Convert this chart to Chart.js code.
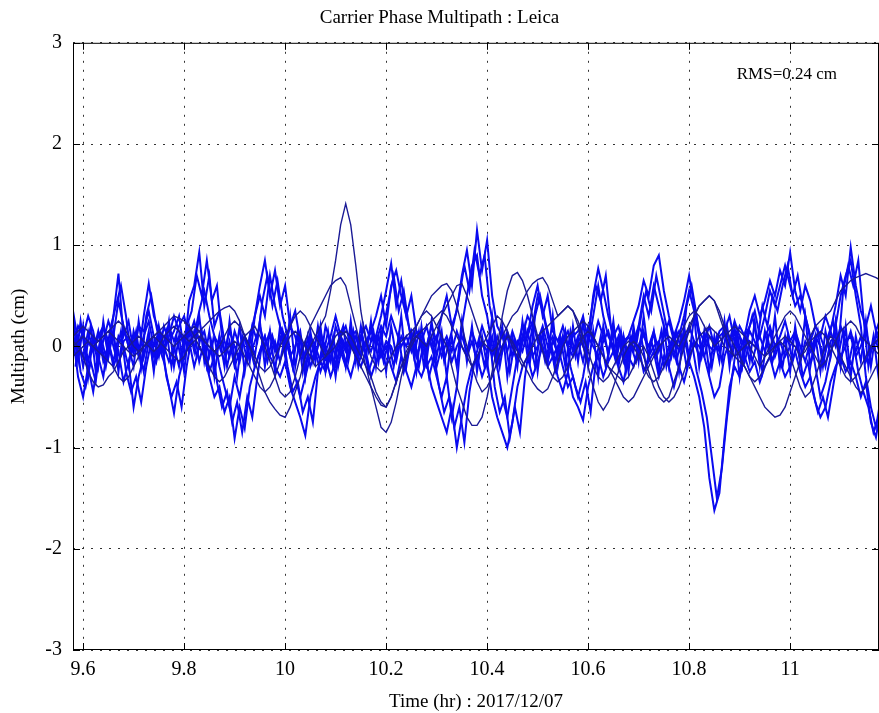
<!DOCTYPE html>
<html>
<head>
<meta charset="utf-8">
<script src="https://cdn.jsdelivr.net/npm/chart.js@4/dist/chart.umd.min.js"></script>
<style>
  html, body { margin: 0; padding: 0; background: #fff; overflow: hidden; }
  canvas { display: block; }
</style>
</head>
<body>
<canvas id="mp" width="879" height="713"></canvas>
<script>
// time axis: samples every 0.01 hr from 9.58 hr
const startHr = 9.58;
const stepHr = 0.01;

const xTicks = [9.6, 9.8, 10, 10.2, 10.4, 10.6, 10.8, 11];
const xTickLabels = ['9.6', '9.8', '10', '10.2', '10.4', '10.6', '10.8', '11'];
const yTicks = [-3, -2, -1, 0, 1, 2, 3];

// noisy satellites (cm)
const satA = [
  0.35, 0.05, -0.1, 0.15, -0.05, 0.1, 0.2, -0.1, 0.3, 0.72, 0.1, 0.25, -0.05, 0.2, 0.15, 0.35, 0.1, -0.1, 0.2, 0.05,
  0.15, 0.3, -0.05, 0.45, 0.6, 0.93, 0.4, 0.7, 0.2, 0.35, 0.05, -0.1, 0.15, 0.0, 0.1, -0.15, 0.3, 0.6, 0.85, 0.5,
  0.75, 0.4, 0.6, 0.2, 0.35, 0.05, -0.1, 0.1, 0.0, -0.15, 0.2, 0.05, -0.1, 0.1, 0.0, 0.15, -0.05, 0.1, 0.2, 0.05,
  0.1, 0.3, 0.55, 0.82, 0.4, 0.65, 0.3, 0.5, 0.15, 0.1, 0.0, 0.2, 0.05, 0.3, 0.5, 0.2, 0.35, 0.7, 0.95, 0.6,
  1.15, 0.75, 1.05, 0.5, 0.2, 0.1, -0.05, 0.15, 0.0, 0.2, 0.1, 0.4, 0.6, 0.3, 0.5, 0.15, 0.05, 0.2, 0.0, 0.1,
  0.15, 0.3, 0.05, 0.5, 0.77, 0.55, 0.3, 0.1, 0.2, 0.0, 0.1, 0.25, 0.4, 0.65, 0.5, 0.8, 0.9, 0.55, 0.3, 0.1,
  0.25, 0.45, 0.7, 0.4, 0.15, 0.05, 0.2, 0.0, 0.1, 0.15, 0.3, 0.05, 0.2, 0.1, 0.35, 0.5, 0.3, 0.45, 0.65, 0.5,
  0.75, 0.6, 0.93, 0.55, 0.35, 0.6, 0.45, 0.2, 0.1, 0.3, 0.15, 0.4, 0.7, 0.5, 0.98, 0.6, 0.35, 0.2, 0.4, 0.15,
  0.3
];
const satB = [
  0.1, -0.3, -0.5, -0.2, -0.45, -0.1, -0.3, 0.05, -0.2, -0.05, -0.35, -0.15, -0.6, -0.3, -0.1, 0.1, -0.2, 0.0, -0.15, -0.4,
  -0.66, -0.3, -0.1, 0.05, -0.2, 0.0, -0.1, -0.3, -0.5, -0.4, -0.65, -0.5, -0.91, -0.6, -0.81, -0.4, -0.2, -0.05, 0.1, -0.1,
  -0.2, -0.3, -0.15, -0.4, -0.55, -0.7, -0.88, -0.5, -0.3, -0.15, -0.25, -0.1, -0.2, 0.0, -0.15, -0.3, -0.1, -0.2, -0.05, -0.3,
  -0.15, -0.1, 0.0, -0.2, -0.35, -0.1, -0.25, -0.4, -0.2, -0.3, -0.15, -0.4, -0.55, -0.7, -0.85, -0.6, -1.0, -0.7, -0.4, -0.2,
  -0.1, -0.3, -0.15, -0.5, -0.7, -0.85, -1.0, -0.75, -0.4, -0.2, -0.1, -0.3, -0.15, 0.0, -0.2, -0.1, -0.3, -0.45, -0.25, -0.5,
  -0.6, -0.73, -0.4, -0.2, -0.1, -0.3, -0.15, -0.05, -0.2, -0.35, -0.1, -0.2, 0.0, -0.25, -0.15, -0.05, -0.3, -0.1, -0.2, -0.4,
  -0.2, -0.35, -0.15, -0.3, -0.5, -0.8, -1.3, -1.62, -1.45, -0.9, -0.4, -0.2, -0.3, -0.1, -0.25, -0.15, -0.35, -0.2, -0.1, -0.3,
  -0.15, -0.3, -0.2, -0.05, -0.25, -0.4, -0.3, -0.55, -0.7, -0.6, -0.35, -0.2, -0.1, -0.25, -0.15, -0.3, -0.5, -0.35, -0.75, -0.9,
  -0.6
];
const satC = [
  0.2, 0.0, 0.15, -0.15, 0.1, -0.05, 0.2, 0.05, -0.15, 0.1, 0.0, -0.2, 0.15, -0.05, 0.1, 0.25, 0.0, 0.15, -0.1, 0.2,
  0.05, 0.2, 0.3, 0.1, 0.25, 0.05, 0.15, -0.1, 0.1, 0.0, -0.15, 0.05, -0.2, -0.05, 0.1, -0.1, 0.05, 0.2, 0.0, 0.15,
  -0.05, 0.1, 0.0, 0.2, 0.1, -0.1, 0.05, -0.2, -0.05, -0.25, -0.1, -0.3, -0.15, -0.05, -0.2, 0.05, -0.1, 0.1, 0.0, 0.15,
  0.05, 0.2, 0.1, 0.3, 0.15, 0.0, 0.1, -0.05, 0.15, 0.05, 0.2, 0.0, 0.1, -0.1, 0.05, -0.15, 0.0, 0.1, -0.05, 0.15,
  0.0, 0.2, 0.05, -0.1, 0.1, -0.05, 0.15, 0.0, -0.15, 0.05, 0.1, 0.25, 0.05, 0.2, 0.0, 0.1, -0.1, 0.05, 0.15, -0.05,
  0.1, 0.0, 0.2, 0.05, 0.25, 0.1, -0.05, 0.15, 0.0, 0.1, -0.1, 0.05, 0.2, 0.1, 0.0, 0.15, -0.05, 0.1, 0.25, 0.05,
  0.15, 0.0, 0.2, 0.05, -0.1, 0.1, 0.0, -0.05, 0.15, 0.2, 0.05, 0.25, 0.1, 0.0, 0.15, 0.05, -0.1, 0.1, 0.2, 0.0,
  0.1, 0.25, 0.05, 0.15, 0.0, -0.15, 0.05, 0.2, 0.1, -0.05, 0.15, 0.0, 0.2, 0.05, 0.1, -0.1, 0.0, 0.15, -0.05, 0.1,
  0.2
];
const satD = [
  -0.1, 0.1, -0.2, 0.05, -0.05, 0.15, -0.15, 0.0, 0.1, -0.2, 0.05, 0.1, -0.05, 0.0, -0.25, 0.05, -0.1, 0.1, 0.0, -0.15,
  0.0, -0.2, 0.1, -0.05, 0.15, -0.15, 0.05, -0.25, -0.1, 0.1, -0.05, 0.15, 0.0, -0.15, 0.1, 0.0, -0.2, -0.05, 0.1, -0.1,
  0.05, -0.15, 0.1, -0.1, 0.0, 0.15, -0.2, 0.05, -0.1, 0.1, 0.0, -0.15, 0.2, 0.05, -0.05, 0.1, 0.15, -0.1, 0.05, -0.05,
  0.1, -0.1, 0.05, 0.0, -0.15, 0.1, 0.0, 0.15, -0.1, 0.05, -0.05, 0.1, -0.2, 0.0, 0.1, -0.05, 0.15, 0.0, -0.1, 0.05,
  -0.15, 0.05, -0.05, 0.1, -0.2, 0.0, 0.1, -0.1, 0.05, -0.05, 0.15, -0.1, 0.0, 0.1, -0.15, 0.05, -0.05, 0.1, 0.0, -0.1,
  0.05, -0.15, 0.1, 0.0, -0.1, 0.05, 0.15, -0.05, 0.1, -0.15, 0.0, 0.1, -0.05, 0.15, -0.1, 0.0, 0.05, -0.2, 0.0, 0.1,
  -0.05, 0.1, -0.15, 0.05, 0.0, -0.1, 0.1, 0.05, -0.05, 0.15, -0.1, 0.0, 0.1, -0.15, 0.05, 0.0, 0.1, -0.05, 0.15, -0.1,
  0.05, -0.1, 0.0, 0.1, -0.15, 0.05, -0.05, 0.1, 0.0, -0.2, 0.05, 0.1, -0.1, 0.0, 0.15, -0.05, 0.1, -0.15, 0.0, 0.05,
  -0.1
];
const satE = [
  0.0, 0.2, 0.1, 0.3, 0.15, -0.1, 0.05, 0.25, 0.1, 0.45, 0.2, 0.0, 0.1, -0.1, 0.3, 0.62, 0.3, 0.15, -0.05, 0.1,
  0.3, 0.15, 0.0, 0.2, 0.1, 0.35, 0.55, 0.3, 0.1, -0.2, -0.4, -0.6, -0.3, -0.5, -0.2, 0.1, 0.3, 0.5, 0.3, 0.7,
  0.4, 0.2, 0.1, -0.1, -0.3, -0.5, -0.3, -0.1, 0.05, 0.15, -0.05, 0.1, 0.3, 0.1, 0.2, 0.0, 0.1, -0.1, 0.05, 0.15,
  0.3, 0.5, 0.2, 0.6, 0.75, 0.5, 0.3, 0.1, -0.1, 0.05, -0.2, -0.1, -0.3, -0.5, -0.3, -0.7, -0.4, 0.2, 0.5, 0.8,
  0.9, 0.5, 0.3, 0.0, -0.2, -0.5, -0.7, -0.4, -0.1, 0.1, 0.3, 0.2, 0.5, 0.35, 0.1, -0.1, 0.0, -0.2, -0.4, -0.3,
  -0.5, -0.3, 0.0, 0.3, 0.6, 0.3, 0.1, 0.0, -0.15, 0.05, 0.1, -0.05, 0.2, 0.5, 0.3, 0.6, 0.4, 0.2, 0.05, -0.1,
  0.1, 0.3, 0.55, 0.35, 0.1, -0.1, -0.3, -0.5, -0.4, -0.1, 0.05, 0.15, -0.05, 0.1, 0.2, 0.35, 0.1, 0.3, 0.55, 0.4,
  0.6, 0.8, 0.6, 0.4, 0.5, 0.3, 0.1, -0.2, -0.5, -0.35, -0.1, 0.2, 0.5, 0.7, 0.85, 0.5, 0.2, -0.3, -0.6, -0.8,
  -0.5
];
// these two are sampled half a step later than the others
const satJ = [
  -0.2, 0.25, -0.1, 0.2, -0.25, 0.1, -0.1, 0.2, 0.4, 0.6, 0.3, -0.1, 0.15, -0.2, 0.3, 0.5, 0.2, -0.05, 0.15, -0.2,
  0.1, -0.15, 0.2, 0.35, 0.7, 0.5, 0.85, 0.45, 0.6, 0.1, -0.2, 0.05, -0.3, 0.1, -0.15, 0.2, 0.05, 0.45, 0.7, 0.4,
  0.65, 0.3, 0.1, -0.2, 0.15, -0.25, 0.1, -0.15, 0.2, -0.1, 0.15, -0.2, 0.05, 0.2, -0.15, 0.1, -0.1, 0.2, -0.05, 0.15,
  -0.15, 0.2, 0.45, 0.7, 0.35, 0.55, 0.2, -0.1, 0.15, -0.2, 0.1, -0.1, 0.2, -0.15, 0.05, 0.25, 0.5, 0.8, 0.55, 0.95,
  0.7, 0.9, 0.4, 0.15, -0.2, 0.1, -0.25, 0.05, -0.1, 0.2, -0.15, 0.3, 0.5, 0.25, 0.05, -0.15, 0.1, -0.2, 0.15, -0.1,
  0.2, -0.1, 0.3, 0.6, 0.45, 0.7, 0.2, -0.1, 0.15, -0.2, 0.1, 0.0, 0.3, 0.55, 0.35, 0.7, 0.45, 0.2, -0.1, 0.15,
  -0.05, 0.4, 0.6, 0.3, -0.1, 0.15, -0.2, 0.1, -0.15, 0.2, -0.1, 0.15, -0.2, 0.1, 0.3, 0.05, 0.4, 0.2, 0.5, 0.35,
  0.6, 0.8, 0.5, 0.7, 0.4, 0.2, -0.1, 0.15, -0.2, 0.1, 0.25, -0.05, 0.55, 0.8, 0.6, 0.85, 0.3, -0.2, 0.1, -0.3,
  0.05
];
const satK = [
  0.15, -0.25, -0.4, -0.15, -0.35, 0.05, -0.2, 0.1, -0.1, 0.15, -0.25, -0.45, -0.3, -0.55, -0.2, 0.05, -0.15, 0.1, -0.3, -0.5,
  -0.35, -0.6, -0.2, 0.1, -0.1, 0.15, -0.2, 0.05, -0.35, -0.6, -0.45, -0.75, -0.55, -0.85, -0.5, -0.7, -0.3, 0.05, -0.15, 0.1,
  -0.1, 0.15, -0.2, -0.45, -0.35, -0.65, -0.5, -0.75, -0.25, 0.05, -0.15, 0.1, -0.2, 0.05, -0.1, 0.15, -0.2, 0.05, -0.25, -0.1,
  0.1, -0.15, 0.05, -0.2, 0.1, -0.25, -0.05, 0.15, -0.2, 0.05, -0.3, -0.1, -0.4, -0.65, -0.5, -0.8, -0.6, -0.95, -0.45, -0.15,
  0.05, -0.2, 0.1, -0.4, -0.65, -0.5, -0.9, -0.6, -0.85, -0.3, 0.05, -0.2, 0.1, -0.15, 0.05, -0.25, -0.1, 0.15, -0.2, -0.4,
  -0.55, -0.35, -0.65, -0.15, 0.1, -0.2, 0.05, -0.15, 0.1, -0.25, 0.0, -0.15, 0.1, -0.2, 0.05, -0.1, 0.15, -0.2, 0.05, -0.15,
  0.1, -0.2, 0.05, -0.25, -0.45, -0.7, -1.1, -1.5, -1.2, -0.7, -0.3, 0.05, -0.2, 0.1, -0.15, 0.05, -0.25, 0.1, -0.15, 0.05,
  -0.2, 0.1, -0.15, 0.05, -0.3, -0.15, -0.45, -0.65, -0.5, -0.7, -0.4, -0.1, 0.15, -0.2, 0.05, -0.25, -0.45, -0.6, -0.85, -0.7,
  -0.8
];
const satL = [
  0.3, -0.15, 0.2, -0.3, 0.1, -0.2, 0.25, -0.1, 0.15, -0.25, 0.2, 0.0, -0.2, 0.25, -0.1, 0.15, -0.25, 0.2, -0.05, 0.25,
  -0.2, 0.1, -0.25, 0.2, -0.05, 0.3, -0.15, 0.15, -0.3, 0.1, -0.2, 0.25, -0.15, 0.2, -0.25, 0.1, -0.1, 0.25, -0.2, 0.15,
  -0.25, 0.2, -0.1, 0.3, -0.2, 0.1, -0.3, 0.15, -0.15, 0.2, -0.25, 0.05, -0.3, 0.1, -0.2, 0.25, -0.15, 0.2, -0.1, 0.25,
  -0.2, 0.15, -0.25, 0.2, -0.1, 0.3, -0.2, 0.1, -0.25, 0.2, -0.15, 0.25, -0.1, 0.15, -0.3, 0.1, -0.2, 0.25, -0.15, 0.2,
  -0.25, 0.1, -0.2, 0.3, -0.15, 0.2, -0.3, 0.1, -0.2, 0.25, -0.1, 0.2, -0.25, 0.15, -0.15, 0.3, -0.2, 0.1, -0.25, 0.2,
  -0.15, 0.25, -0.2, 0.15, -0.3, 0.2, -0.1, 0.25, -0.2, 0.1, -0.25, 0.2, -0.15, 0.3, -0.1, 0.15, -0.25, 0.2, -0.2, 0.1,
  -0.25, 0.2, -0.1, 0.3, -0.2, 0.15, -0.25, 0.1, -0.15, 0.25, -0.2, 0.2, -0.3, 0.1, -0.15, 0.25, -0.2, 0.15, -0.1, 0.3,
  -0.2, 0.1, -0.25, 0.2, -0.15, 0.3, -0.2, 0.1, -0.25, 0.15, -0.1, 0.25, -0.2, 0.2, -0.3, 0.1, -0.15, 0.25, -0.2, 0.15,
  -0.1
];

// smoother satellites (thin loops)
const satF = [
  0.05, 0.0, -0.1, -0.25, -0.35, -0.4, -0.38, -0.3, -0.25, -0.15, -0.05, 0.0, 0.05, 0.1, 0.05, 0.0, -0.05, 0.0, 0.1, 0.15,
  0.2, 0.15, 0.1, 0.05, 0.1, 0.15, 0.2, 0.25, 0.3, 0.35, 0.38, 0.4, 0.35, 0.25, 0.1, 0.0, -0.15, -0.3, -0.45, -0.55,
  -0.62, -0.68, -0.7, -0.6, -0.45, -0.3, -0.1, 0.0, 0.1, 0.2, 0.3, 0.55, 0.85, 1.2, 1.41, 1.2, 0.8, 0.35, 0.05, -0.1,
  -0.2, -0.25, -0.2, -0.1, 0.0, 0.05, 0.1, 0.15, 0.2, 0.3, 0.4, 0.5, 0.55, 0.6, 0.62, 0.55, 0.4, 0.2, 0.0, -0.2,
  -0.35, -0.45, -0.4, -0.3, -0.15, 0.0, 0.1, 0.05, -0.05, -0.15, -0.25, -0.35, -0.42, -0.46, -0.42, -0.3, -0.15, 0.0, 0.1, 0.15,
  0.2, 0.25, 0.2, 0.1, 0.0, -0.1, -0.2, -0.3, -0.4, -0.5, -0.55, -0.5, -0.4, -0.3, -0.2, -0.1, 0.0, 0.05, 0.1, 0.05,
  0.0, 0.1, 0.2, 0.3, 0.4, 0.45, 0.5, 0.45, 0.35, 0.2, 0.1, 0.0, -0.1, -0.2, -0.3, -0.4, -0.5, -0.6, -0.65, -0.7,
  -0.68, -0.6, -0.45, -0.3, -0.15, 0.0, 0.1, 0.2, 0.25, 0.3, 0.35, 0.45, 0.55, 0.6, 0.65, 0.68, 0.7, 0.72, 0.7, 0.68,
  0.65
];
const satG = [
  -0.1, -0.05, 0.0, 0.05, 0.0, -0.05, -0.1, -0.15, -0.2, -0.3, -0.35, -0.3, -0.2, -0.1, 0.0, 0.05, 0.1, 0.15, 0.2, 0.25,
  0.3, 0.28, 0.25, 0.2, 0.1, 0.0, -0.1, -0.2, -0.3, -0.35, -0.3, -0.2, -0.1, 0.0, 0.1, 0.15, 0.2, 0.1, 0.0, -0.15,
  -0.3, -0.45, -0.5, -0.45, -0.3, -0.1, 0.05, 0.2, 0.3, 0.4, 0.5, 0.6, 0.65, 0.68, 0.6, 0.4, 0.2, 0.0, -0.2, -0.4,
  -0.6, -0.8, -0.85, -0.75, -0.55, -0.3, -0.1, 0.05, 0.2, 0.3, 0.35, 0.3, 0.2, 0.1, 0.0, -0.2, -0.4, -0.55, -0.7, -0.78,
  -0.78, -0.7, -0.5, -0.25, 0.0, 0.3, 0.55, 0.7, 0.73, 0.65, 0.5, 0.3, 0.1, -0.05, -0.2, -0.3, -0.35, -0.3, -0.2, -0.1,
  0.0, 0.1, 0.15, 0.1, 0.0, -0.1, -0.2, -0.25, -0.3, -0.35, -0.3, -0.2, -0.1, 0.0, -0.1, -0.25, -0.4, -0.5, -0.55, -0.5,
  -0.4, -0.25, -0.1, 0.0, 0.1, 0.15, 0.2, 0.15, 0.1, 0.0, -0.05, -0.1, -0.15, -0.2, -0.3, -0.35, -0.3, -0.2, -0.1, 0.0,
  0.05, 0.0, -0.1, -0.25, -0.4, -0.5, -0.45, -0.3, -0.15, 0.0, 0.1, 0.05, -0.1, -0.2, -0.3, -0.4, -0.46, -0.4, -0.3, -0.2,
  -0.15
];
const satH = [
  0.1, 0.15, 0.2, 0.15, 0.1, 0.05, 0.1, 0.15, 0.2, 0.25, 0.2, 0.1, 0.0, -0.05, 0.0, 0.05, 0.1, 0.05, 0.0, -0.05,
  -0.1, -0.15, -0.1, 0.0, 0.05, 0.1, 0.05, 0.0, -0.05, 0.0, 0.1, 0.2, 0.25, 0.2, 0.1, 0.0, -0.1, -0.2, -0.25, -0.2,
  -0.1, 0.0, 0.1, 0.2, 0.3, 0.35, 0.3, 0.2, 0.1, 0.0, -0.1, -0.05, 0.0, 0.1, 0.15, 0.1, 0.0, -0.1, -0.2, -0.3,
  -0.45, -0.55, -0.6, -0.5, -0.35, -0.2, -0.05, 0.05, 0.1, 0.05, 0.0, 0.1, 0.2, 0.3, 0.4, 0.5, 0.6, 0.62, 0.5, 0.35,
  0.2, 0.05, 0.0, -0.05, 0.0, 0.1, 0.2, 0.3, 0.35, 0.45, 0.55, 0.62, 0.66, 0.68, 0.6, 0.45, 0.3, 0.35, 0.4, 0.35,
  0.25, 0.1, -0.05, -0.2, -0.3, -0.35, -0.3, -0.2, -0.1, 0.0, 0.05, 0.0, -0.1, -0.2, -0.3, -0.35, -0.3, -0.2, -0.1, 0.0,
  0.1, 0.2, 0.3, 0.35, 0.3, 0.2, 0.1, 0.0, 0.05, 0.1, 0.15, 0.2, 0.15, 0.1, 0.0, -0.1, -0.2, -0.1, 0.0, 0.1,
  0.2, 0.3, 0.35, 0.3, 0.2, 0.1, 0.0, -0.1, -0.2, -0.15, -0.05, 0.05, 0.15, 0.2, 0.25, 0.2, 0.1, 0.05, 0.0, -0.05,
  -0.1
];
const satI = [
  0.0, 0.05, 0.1, 0.05, 0.0, 0.05, 0.1, 0.15, 0.1, 0.05, 0.0, -0.05, -0.1, -0.05, 0.0, 0.05, 0.1, 0.15, 0.1, 0.05,
  0.0, 0.05, 0.1, 0.15, 0.2, 0.15, 0.05, 0.0, -0.05, -0.1, -0.05, 0.0, 0.05, 0.0, -0.1, -0.2, -0.3, -0.4, -0.45, -0.4,
  -0.3, -0.15, 0.0, 0.1, 0.15, 0.1, 0.0, -0.1, -0.2, -0.15, -0.1, 0.0, 0.1, 0.15, 0.1, 0.0, -0.1, -0.2, -0.3, -0.4,
  -0.5, -0.58, -0.6, -0.5, -0.35, -0.2, -0.1, 0.0, 0.1, 0.15, 0.2, 0.25, 0.3, 0.35, 0.3, 0.2, 0.1, 0.0, -0.1, -0.2,
  -0.1, 0.0, 0.1, 0.2, 0.3, 0.25, 0.15, 0.0, -0.1, -0.2, -0.1, 0.0, 0.1, 0.15, 0.2, 0.25, 0.3, 0.35, 0.4, 0.35,
  0.2, 0.0, -0.2, -0.4, -0.55, -0.63, -0.55, -0.4, -0.25, -0.1, 0.0, 0.05, 0.0, -0.1, -0.25, -0.4, -0.5, -0.55, -0.5, -0.35,
  -0.2, 0.0, 0.15, 0.3, 0.4, 0.45, 0.5, 0.45, 0.3, 0.15, 0.0, -0.1, -0.05, 0.0, 0.05, 0.0, -0.05, -0.1, -0.05, 0.0,
  0.05, 0.1, 0.05, 0.0, -0.1, -0.05, 0.05, 0.1, 0.15, 0.1, 0.0, -0.1, -0.2, -0.3, -0.35, -0.3, -0.2, -0.1, 0.0, 0.05,
  0.1
];

const noisySats = [satA, satB, satC, satD, satE, satL];
const shiftedSats = [satJ, satK];
const smoothSats = [satF, satG, satH, satI];
const rmsText = 'RMS=0.24 cm';

const serif = '"Liberation Serif", "DejaVu Serif", serif';

const toPoints = (vals, t0) => vals.map((v, i) => ({ x: t0 + i * stepHr, y: v }));

const datasets = [];
smoothSats.forEach(s => datasets.push({
  data: toPoints(s, startHr), borderColor: '#1a1a96', borderWidth: 1.4,
  pointRadius: 0, tension: 0, fill: false
}));
noisySats.forEach(s => datasets.push({
  data: toPoints(s, startHr), borderColor: '#0a0af0', borderWidth: 2,
  pointRadius: 0, tension: 0, fill: false
}));
shiftedSats.forEach(s => datasets.push({
  data: toPoints(s, startHr + stepHr / 2), borderColor: '#0a0af0', borderWidth: 2,
  pointRadius: 0, tension: 0, fill: false
}));

// matlab style box with inward ticks + rms label
const boxPlugin = {
  id: 'box',
  afterDatasetsDraw(chart) {
    const { ctx, chartArea: a, scales } = chart;
    const tl = 7;
    ctx.save();
    ctx.strokeStyle = '#000';
    ctx.lineWidth = 1;
    ctx.strokeRect(a.left + 0.5, a.top + 0.5, a.right - a.left - 1, a.bottom - a.top - 1);
    ctx.beginPath();
    xTicks.forEach(v => {
      const x = Math.round(scales.x.getPixelForValue(v)) + 0.5;
      ctx.moveTo(x, a.bottom); ctx.lineTo(x, a.bottom - tl);
      ctx.moveTo(x, a.top); ctx.lineTo(x, a.top + tl);
    });
    yTicks.forEach(v => {
      const y = Math.round(scales.y.getPixelForValue(v)) + 0.5;
      ctx.moveTo(a.left, y); ctx.lineTo(a.left + tl, y);
      ctx.moveTo(a.right, y); ctx.lineTo(a.right - tl, y);
    });
    ctx.stroke();
    ctx.fillStyle = '#000';
    ctx.font = '17px ' + serif;
    ctx.textAlign = 'right';
    ctx.textBaseline = 'middle';
    ctx.fillText(rmsText, a.right - 42, a.top + 32);
    ctx.restore();
  }
};

new Chart(document.getElementById('mp'), {
  type: 'line',
  data: { datasets },
  plugins: [boxPlugin],
  options: {
    responsive: false,
    devicePixelRatio: 1,
    animation: false,
    layout: { padding: 0 },
    plugins: {
      legend: { display: false },
      tooltip: { enabled: false },
      title: {
        display: true,
        text: 'Carrier Phase Multipath : Leica',
        color: '#000',
        font: { family: serif, size: 19, weight: 'normal' },
        padding: { top: 7, bottom: 13 }
      }
    },
    scales: {
      x: {
        type: 'linear',
        min: startHr,
        max: 11.176,
        afterBuildTicks: s => { s.ticks = xTicks.map(v => ({ value: v })); },
        afterFit: s => { s.height = 63; },
        ticks: {
          color: '#000', padding: 8, maxRotation: 0, autoSkip: false,
          font: { family: serif, size: 20 },
          callback: (v, i) => xTickLabels[i]
        },
        grid: { color: '#333', lineWidth: 1, drawTicks: false, borderDash: [2, 7] },
        border: { display: false, dash: [2, 7] },
        title: {
          display: true, text: 'Time (hr) : 2017/12/07', color: '#000',
          font: { family: serif, size: 19 }, padding: { top: 0, bottom: 0 }
        }
      },
      y: {
        min: -3,
        max: 3,
        afterBuildTicks: s => { s.ticks = yTicks.map(v => ({ value: v })); },
        afterFit: s => { s.width = 73; },
        ticks: {
          color: '#000', padding: 11,
          font: { family: serif, size: 20 },
          callback: v => String(v)
        },
        grid: { color: '#333', lineWidth: 1, drawTicks: false, borderDash: [2, 7] },
        border: { display: false, dash: [2, 7] },
        title: {
          display: true, text: 'Multipath (cm)', color: '#000',
          font: { family: serif, size: 19 }, padding: { top: 8, bottom: 0 }
        }
      }
    }
  }
});
</script>
</body>
</html>
